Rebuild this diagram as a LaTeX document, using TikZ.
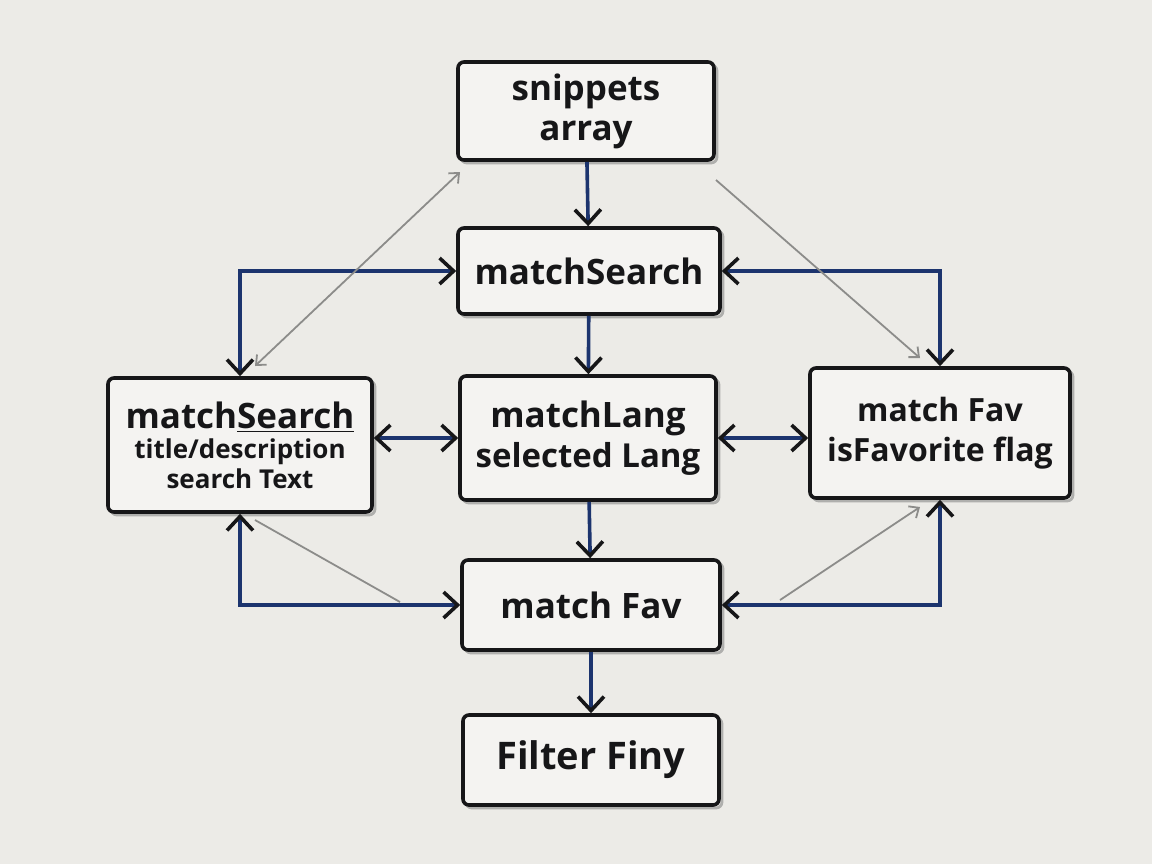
\documentclass[tikz,border=0pt]{standalone}
\usepackage{fontspec}
\setmainfont{Open Sans}
\usetikzlibrary{arrows.meta,calc}

\definecolor{paper}{RGB}{236,235,231}
\definecolor{ink}{RGB}{22,22,24}
\definecolor{navy}{RGB}{28,52,110}
\definecolor{pencil}{RGB}{140,140,138}

\tikzset{
  flowbox/.style={draw=ink, line width=1.8pt, rounded corners=3pt, fill=paper!60!white,
    align=center, text=ink, inner sep=2pt, execute at begin node=\bfseries,
    preaction={draw=pencil!70, line width=1.4pt, transform canvas={shift={(1.5pt,-1.5pt)}}}},
  flow/.style={draw=navy, line width=1.8pt,
    -{Straight Barb[length=7pt, width=13pt, line width=1.8pt, color=ink]}},
  flowboth/.style={flow,
    {Straight Barb[length=7pt, width=13pt, line width=1.8pt, color=ink]}-{Straight Barb[length=7pt, width=13pt, line width=1.8pt, color=ink]}},
  hint/.style={draw=pencil, line width=0.9pt,
    -{Straight Barb[length=4pt, width=7pt, line width=0.9pt]}},
}

\begin{document}
\begin{tikzpicture}[x=0.5pt, y=-0.5pt]
% paper
\fill[paper] (0,0) rectangle (1152,864);
\useasboundingbox (0,0) rectangle (1152,864);

% boxes
\node[flowbox, minimum width=128pt, minimum height=49pt, font=\fontsize{17.5}{20}\selectfont] (snip) at (586,111) {snippets\\array};
\node[flowbox, minimum width=131pt, minimum height=43pt, font=\fontsize{17.5}{22}\selectfont] (msTop) at (589,271) {matchSearch};
\node[flowbox, minimum width=132pt, minimum height=67pt, font=\fontsize{13}{15}\selectfont] (msLeft) at (240,445)
  {{\fontsize{17.5}{20}\selectfont match\underline{Search}}\\title/description\\search Text};
\node[flowbox, minimum width=128pt, minimum height=62pt, font=\fontsize{16.5}{20}\selectfont] (lang) at (588,438)
  {{\fontsize{17.5}{20}\selectfont matchLang}\\selected Lang};
\node[flowbox, minimum width=130pt, minimum height=65pt, font=\fontsize{16}{20}\selectfont] (favR) at (940,433)
  {match Fav\\isFavorite flag};
\node[flowbox, minimum width=129pt, minimum height=45pt, font=\fontsize{17.5}{22}\selectfont] (fav) at (591,605) {match Fav};
\node[flowbox, minimum width=128pt, minimum height=45pt, font=\fontsize{19}{22}\selectfont] (filt) at (591,760) {Filter Finy};

% main chain
\draw[flow] (snip) -- (msTop);
\draw[flow] (msTop) -- (lang);
\draw[flow] (lang) -- (fav);
\draw[flow] (fav) -- (filt);

% side links
\draw[flowboth] (msLeft.north) |- (msTop.west);
\draw[flowboth] (favR.north) |- (msTop.east);
\draw[flowboth] (msLeft.east |- lang) -- (lang.west);
\draw[flowboth] (lang.east) -- (lang.east -| favR.west);
\draw[flowboth] (msLeft.south) |- (fav.west);
\draw[flowboth] (favR.south) |- (fav.east);

% pencil hints
\coordinate (hA) at (255,366);
\coordinate (hB) at (460,172);
\coordinate (hC) at (716,180);
\coordinate (hD) at (920,358);
\coordinate (hE) at (255,520);
\coordinate (hF) at (400,602);
\coordinate (hG) at (780,600);
\coordinate (hH) at (920,507);
\draw[hint, {Straight Barb[length=4pt, width=7pt, line width=0.9pt]}-{Straight Barb[length=4pt, width=7pt, line width=0.9pt]}] (hA) -- (hB);
\draw[hint] (hC) -- (hD);
\draw[hint, -] (hE) -- (hF);
\draw[hint] (hG) -- (hH);
\end{tikzpicture}
\end{document}
